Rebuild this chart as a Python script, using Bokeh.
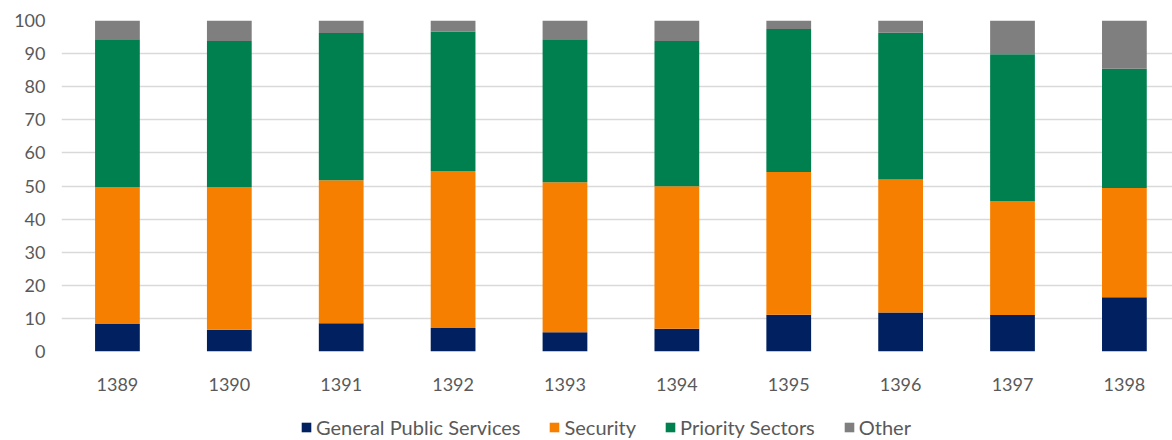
from bokeh.plotting import figure
from bokeh.layouts import column
from bokeh.models import ColumnDataSource, Legend, LegendItem, FixedTicker
from bokeh.embed import file_html
from bokeh.resources import INLINE

years = ["1389", "1390", "1391", "1392", "1393", "1394", "1395", "1396", "1397", "1398"]
general_public_services = [8.3, 6.6, 8.5, 7.1, 5.8, 6.9, 11.1, 11.8, 11.0, 16.4]
security = [41.4, 43.1, 43.2, 47.4, 45.3, 43.0, 43.1, 40.2, 34.5, 33.0]
priority_sectors = [44.6, 44.1, 44.5, 42.2, 43.2, 43.9, 43.2, 44.3, 44.3, 36.0]
other = [5.7, 6.2, 3.8, 3.3, 5.7, 6.2, 2.6, 3.7, 10.2, 14.6]

series = ["General Public Services", "Security", "Priority Sectors", "Other"]
colors = ["#002060", "#F77F00", "#007F4F", "#7F7F7F"]
keys = ["gps", "sec", "pri", "oth"]

src = ColumnDataSource(dict(x=list(range(len(years))), gps=general_public_services,
                            sec=security, pri=priority_sectors, oth=other))

FONT = "Lato"
p = figure(width=1172, height=394, output_backend="svg", toolbar_location=None,
           x_range=(-0.5, 9.43), y_range=(0, 100),
           min_border_left=61, min_border_right=0, min_border_top=20, min_border_bottom=43)
p.outline_line_color = None

p.vbar_stack(keys, x="x", width=0.4, source=src, color=colors, line_color=None)

p.xaxis.ticker = FixedTicker(ticks=list(range(len(years))))
p.xaxis.major_label_overrides = {i: y for i, y in enumerate(years)}
p.yaxis.ticker = FixedTicker(ticks=list(range(0, 101, 10)))
for ax in (p.xaxis, p.yaxis):
    ax.axis_line_color = None
    ax.major_tick_line_color = None
    ax.minor_tick_line_color = None
    ax.major_label_text_font = FONT
    ax.major_label_text_font_size = "18px"
    ax.major_label_text_color = "#595959"
p.xaxis.major_label_standoff = 20
p.yaxis.major_label_standoff = 10
p.xgrid.grid_line_color = None
p.ygrid.grid_line_color = "#D9D9D9"
p.ygrid.grid_line_width = 1.5

# legend strip below the chart; its view range lies above the data, so only the legend shows
lf = figure(width=1172, height=46, output_backend="svg", toolbar_location=None,
            x_range=(-0.5, 9.43), y_range=(200, 201), x_axis_type=None, y_axis_type=None,
            min_border_left=0, min_border_right=0, min_border_top=0, min_border_bottom=0)
lf.outline_line_color = None
lf.xgrid.grid_line_color = None
lf.ygrid.grid_line_color = None
lrs = lf.vbar_stack(keys, x="x", width=0.4, source=src, color=colors, line_color=None)

legend = Legend(items=[LegendItem(label=s, renderers=[r]) for s, r in zip(series, lrs)],
                orientation="horizontal", location=(239, 1),
                label_text_font=FONT, label_text_font_size="20px", label_text_color="#595959",
                glyph_width=12, glyph_height=12, label_standoff=4, spacing=28, label_height=20,
                background_fill_alpha=0, border_line_color=None, padding=0, margin=0)
lf.add_layout(legend, "center")

layout = column(p, lf, spacing=0)
open("out.html", "w").write(file_html(layout, INLINE))
